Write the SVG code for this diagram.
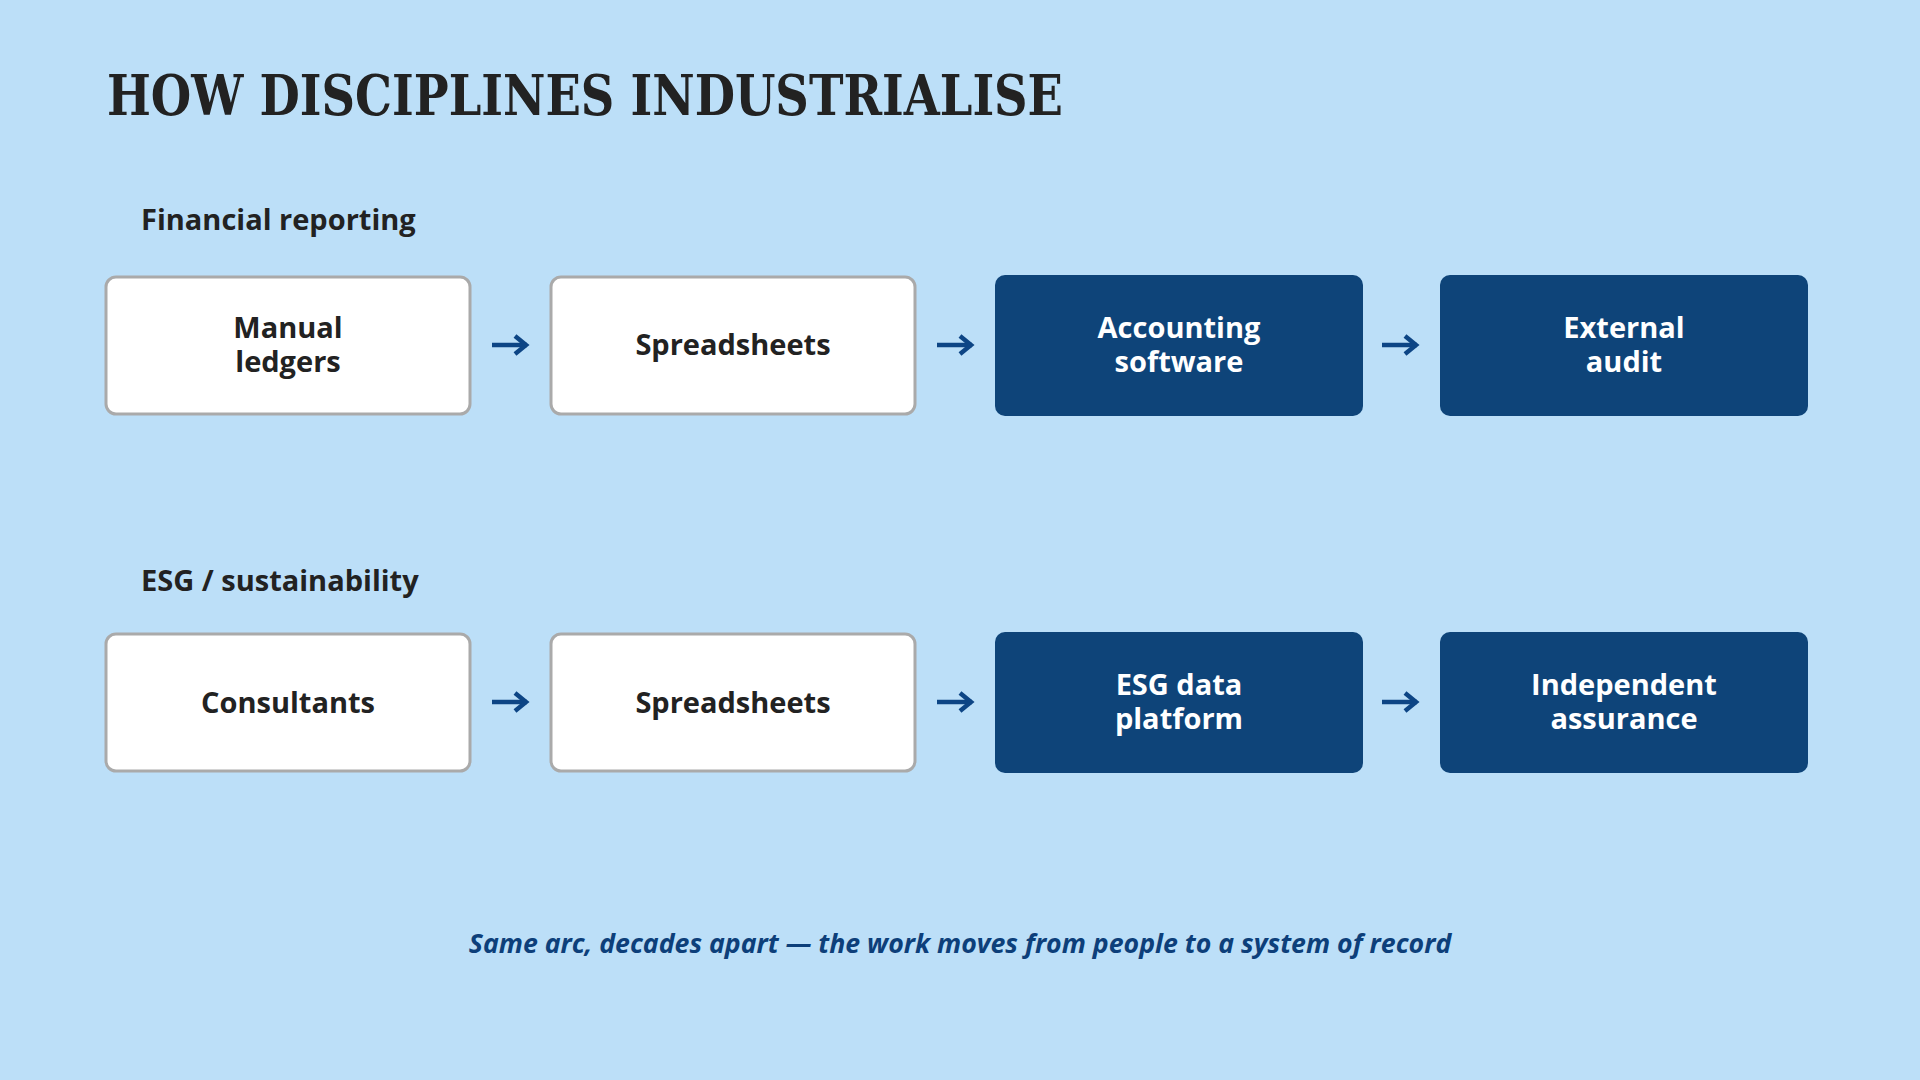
<svg xmlns="http://www.w3.org/2000/svg" width="1920" height="1080" viewBox="0 0 1920 1080">
<style>
.title{font-family:"DejaVu Serif",serif;font-weight:bold;font-size:56px;fill:#222;}
.sec{font-family:"Open Sans","Liberation Sans",sans-serif;font-weight:700;font-size:29px;fill:#222;}
.lt rect{fill:#fff;stroke:#aaa;stroke-width:3;}
.dk rect{fill:#0e4479;}
.lt text{font-family:"Open Sans","Liberation Sans",sans-serif;font-weight:700;font-size:29px;fill:#222;text-anchor:middle;}
.dk text{font-family:"Open Sans","Liberation Sans",sans-serif;font-weight:700;font-size:29px;fill:#fff;text-anchor:middle;}
.foot{font-family:"Open Sans","Liberation Sans",sans-serif;font-weight:700;font-style:italic;font-size:26.7px;fill:#0d3f7a;text-anchor:middle;}
.conn line{stroke:#0d4585;stroke-width:4.5;}
</style>
<defs>
<marker id="ah" viewBox="0 0 20 24" refX="15" refY="12" markerWidth="20" markerHeight="24" orient="auto" markerUnits="userSpaceOnUse">
<path d="M3,3 L14,12 L3,21" fill="none" stroke="#0d4585" stroke-width="4.5"/>
</marker>
</defs>
<rect width="1920" height="1080" fill="#bcdff8"/>
<text class="title" x="107" y="115" textLength="956" lengthAdjust="spacingAndGlyphs">HOW DISCIPLINES INDUSTRIALISE</text>
<text class="sec" x="141" y="230">Financial reporting</text>
<text class="sec" x="141" y="591">ESG / sustainability</text>

<g id="n1" class="lt"><rect x="106" y="277" width="364" height="137" rx="10"/><text x="288" y="338"><tspan x="288">Manual</tspan><tspan x="288" dy="34">ledgers</tspan></text></g>
<g id="n2" class="lt"><rect x="551" y="277" width="364" height="137" rx="10"/><text x="733" y="355">Spreadsheets</text></g>
<g id="n3" class="dk"><rect x="995" y="275" width="368" height="141" rx="10"/><text x="1179" y="338"><tspan x="1179">Accounting</tspan><tspan x="1179" dy="34">software</tspan></text></g>
<g id="n4" class="dk"><rect x="1440" y="275" width="368" height="141" rx="10"/><text x="1624" y="338"><tspan x="1624">External</tspan><tspan x="1624" dy="34">audit</tspan></text></g>

<g id="n5" class="lt"><rect x="106" y="634" width="364" height="137" rx="10"/><text x="288" y="713">Consultants</text></g>
<g id="n6" class="lt"><rect x="551" y="634" width="364" height="137" rx="10"/><text x="733" y="713">Spreadsheets</text></g>
<g id="n7" class="dk"><rect x="995" y="632" width="368" height="141" rx="10"/><text x="1179" y="695"><tspan x="1179">ESG data</tspan><tspan x="1179" dy="34">platform</tspan></text></g>
<g id="n8" class="dk"><rect x="1440" y="632" width="368" height="141" rx="10"/><text x="1624" y="695"><tspan x="1624">Independent</tspan><tspan x="1624" dy="34">assurance</tspan></text></g>

<g id="connectors" class="conn">
<line x1="492" y1="345" x2="527" y2="345" marker-end="url(#ah)"/>
<line x1="937" y1="345" x2="972" y2="345" marker-end="url(#ah)"/>
<line x1="1382" y1="345" x2="1417" y2="345" marker-end="url(#ah)"/>
<line x1="492" y1="702" x2="527" y2="702" marker-end="url(#ah)"/>
<line x1="937" y1="702" x2="972" y2="702" marker-end="url(#ah)"/>
<line x1="1382" y1="702" x2="1417" y2="702" marker-end="url(#ah)"/>
</g>

<text class="foot" x="960" y="953">Same arc, decades apart — the work moves from people to a system of record</text>
</svg>
